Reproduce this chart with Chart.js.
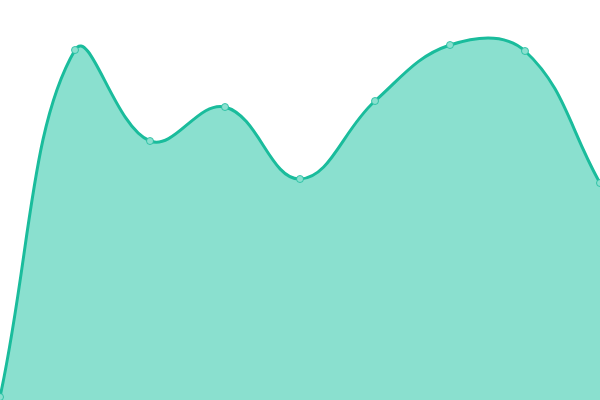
<!DOCTYPE html>
<html>
<head>
<meta charset="utf-8">
<script src="https://cdn.jsdelivr.net/npm/chart.js@4/dist/chart.umd.min.js"></script>
<style>
  html, body { margin: 0; padding: 0; background: #fff; }
  #wrap { width: 600px; height: 400px; }
</style>
</head>
<body>
<div id="wrap"><canvas id="areaChart" width="600" height="400"></canvas></div>
<script>
// Chart data (no visible axes in the reference, values read as 0-100)
const labels = ['1', '2', '3', '4', '5', '6', '7', '8', '9'];
const values = [0.75, 87.5, 64.75, 73.25, 55.25, 74.75, 88.75, 87.25, 54.25];
const yMin = 0;
const yMax = 100;

document.addEventListener('DOMContentLoaded', function() {
    const ctx = document.getElementById('areaChart');
    new Chart(ctx, {
        type: 'line',
        data: {
            labels: labels,
            datasets: [{
                data: values,
                fill: true,
                backgroundColor: 'rgb(138, 224, 207)',
                borderColor: '#1abc9c',
                borderWidth: 3,
                tension: 0.4,
                pointRadius: 3.5,
                pointBackgroundColor: 'rgb(138, 224, 207)',
                pointBorderColor: 'rgba(26, 188, 156, 0.8)',
                pointBorderWidth: 1
            }]
        },
        options: {
            responsive: false,
            animation: false,
            layout: { padding: 0, autoPadding: false },
            plugins: {
                legend: { display: false },
                tooltip: { enabled: false }
            },
            scales: {
                x: { display: false },
                y: { display: false, min: yMin, max: yMax }
            }
        }
    });
});
</script>
</body>
</html>
